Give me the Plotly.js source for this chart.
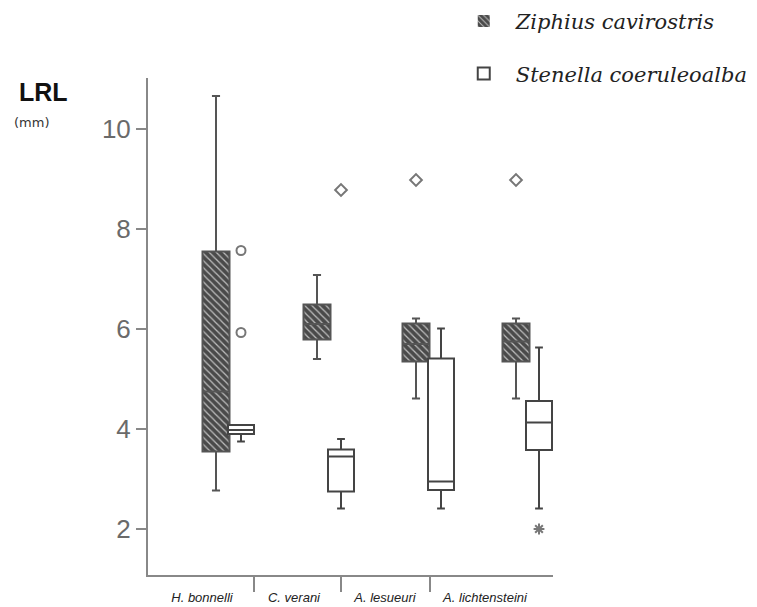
<!DOCTYPE html>
<html>
<head>
<meta charset="utf-8">
<script src="https://cdn.plot.ly/plotly-3.0.1.min.js"></script>
<style>html,body{margin:0;padding:0;background:#fff;}#chart{width:757px;height:607px;}</style>
</head>
<body>
<div id="chart"></div>
<script>
// ---- data ----
const categories = ["H. bonnelli", "C. verani", "A. lesueuri", "A. lichtensteini"];
const seriesNames = ["Ziphius cavirostris", "Stenella coeruleoalba"];

const zipLower  = [2.77, 5.40, 4.61, 4.61];
const zipQ1     = [3.55, 5.79, 5.35, 5.35];
const zipMedian = [4.75, 6.10, 5.70, 5.75];
const zipQ3     = [7.55, 6.49, 6.11, 6.11];
const zipUpper  = [10.66, 7.08, 6.21, 6.21];

const steLower  = [3.75, 2.41, 2.41, 2.41];
const steQ1     = [3.90, 2.75, 2.78, 3.58];
const steMedian = [3.98, 3.45, 2.95, 4.13];
const steQ3     = [4.08, 3.59, 5.41, 4.56];
const steUpper  = [4.08, 3.80, 6.01, 5.63];

// outliers: category index, series index, value, kind
const outCategory = [0, 0, 1, 2, 3, 3];
const outSeries   = [1, 1, 1, 0, 0, 1];
const outValue    = [7.57, 5.93, 8.78, 8.98, 8.98, 2.0];
const outKind     = ["circle", "circle", "diamond", "diamond", "diamond", "star"];

const yTicks = [2, 4, 6, 8, 10];

// ---- layout helpers (positions on a 0..4.05 axis) ----
const catCenter = [0.54, 1.46, 2.37, 3.37];       // label positions
const catSeparators = [1.06, 1.93, 2.82];
const seriesPos = [[0.68, 1.69, 2.68, 3.68], [0.93, 1.93, 2.93, 3.91]];
const boxW = 0.27;

const symbolMap = {circle: "circle-open", diamond: "diamond-open", star: "asterisk-open"};

const traces = [];
// hatched fill for Ziphius boxes
traces.push({
  type: "bar", x: seriesPos[0], base: zipQ1,
  y: zipQ3.map((v, i) => v - zipQ1[i]),
  width: boxW,
  marker: {color: "#4a4a4a", line: {width: 0},
           pattern: {shape: "\\", fgcolor: "#bdbdbd", bgcolor: "#4a4a4a", size: 5, solidity: 0.25}},
  name: seriesNames[0], legendgroup: "z", showlegend: true, hoverinfo: "skip"
});
traces.push({
  type: "box", x: seriesPos[0],
  q1: zipQ1, median: zipMedian, q3: zipQ3, lowerfence: zipLower, upperfence: zipUpper,
  width: boxW, whiskerwidth: 0.3,
  fillcolor: "rgba(0,0,0,0)", line: {color: "#555", width: 2},
  name: seriesNames[0], legendgroup: "z", showlegend: false, boxpoints: false
});
traces.push({
  type: "box", x: seriesPos[1],
  q1: steQ1, median: steMedian, q3: steQ3, lowerfence: steLower, upperfence: steUpper,
  width: boxW - 0.01, whiskerwidth: 0.3,
  fillcolor: "#ffffff", line: {color: "#444", width: 2},
  name: seriesNames[1], legendgroup: "s", showlegend: true, boxpoints: false
});
// outliers
traces.push({
  type: "scatter", mode: "markers",
  x: outCategory.map((c, i) => seriesPos[outSeries[i]][c]),
  y: outValue,
  marker: {symbol: outKind.map(k => symbolMap[k]), size: 9, color: "#777",
           line: {width: 2, color: "#777"}},
  showlegend: false, hoverinfo: "skip", cliponaxis: false
});
// dummy trace for category labels axis
traces.push({type: "scatter", x: catCenter, y: catCenter.map(() => null), xaxis: "x2",
  showlegend: false, hoverinfo: "skip", mode: "markers"});

const layout = {
  width: 757, height: 607,
  margin: {l: 148, r: 204, t: 78, b: 32, autoexpand: false},
  paper_bgcolor: "#fff", plot_bgcolor: "#fff",
  barmode: "overlay",
  showlegend: true,
  legend: {x: 0.75, y: 1.155, xanchor: "left", yanchor: "top", itemwidth: 54,
           font: {family: "DejaVu Serif", size: 21, style: "italic", color: "#222"},
           tracegroupgap: 22, bgcolor: "rgba(0,0,0,0)"},
  xaxis: {range: [0, 4.05], showgrid: false, zeroline: false,
          showline: true, linecolor: "#888", linewidth: 2,
          tickmode: "array", tickvals: catSeparators, ticktext: catSeparators.map(() => ""),
          ticks: "outside", ticklen: 15, tickwidth: 2, tickcolor: "#888",
          showticklabels: false, fixedrange: true},
  xaxis2: {range: [0, 4.05], overlaying: "x", side: "bottom", showgrid: false, zeroline: false,
           showline: false, tickmode: "array", tickvals: catCenter, ticktext: categories,
           ticks: "", ticklabelstandoff: 13,
           tickfont: {family: "Liberation Sans", size: 13, style: "italic", color: "#222"}},
  yaxis: {range: [1.08, 11.02], showgrid: false, zeroline: false,
          showline: true, linecolor: "#888", linewidth: 2,
          tickmode: "array", tickvals: yTicks, ticktext: yTicks.map(String),
          ticks: "outside", ticklen: 10, tickwidth: 2, tickcolor: "#888",
          tickfont: {family: "Liberation Sans", size: 26, color: "#6a6a6a"}},
  annotations: [
    {text: "<b>LRL</b>", xref: "paper", yref: "paper", x: -0.259, y: 0.972, xanchor: "center",
     yanchor: "middle", showarrow: false, font: {family: "Liberation Sans", size: 25, color: "#111"}},
    {text: "(mm)", xref: "paper", yref: "paper", x: -0.287, y: 0.911, xanchor: "center",
     yanchor: "middle", showarrow: false, font: {family: "DejaVu Sans", size: 13, color: "#333"}}
  ]
};

Plotly.newPlot("chart", traces, layout, {displayModeBar: false, staticPlot: true});
</script>
</body>
</html>
